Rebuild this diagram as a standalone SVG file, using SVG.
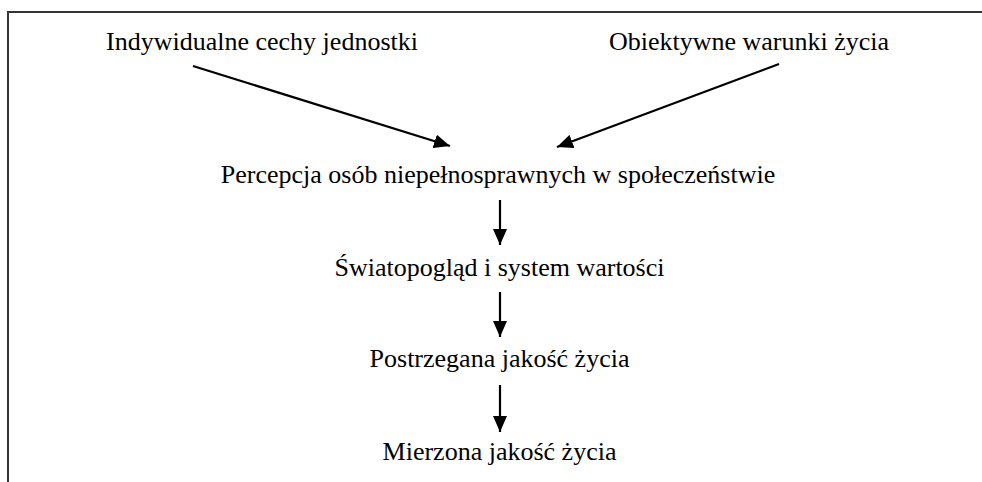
<svg xmlns="http://www.w3.org/2000/svg" width="982" height="482" viewBox="0 0 982 482">
<style>
.t{font-family:"Liberation Serif","Times New Roman",serif;font-size:26px;fill:#000;text-anchor:middle}
.c{stroke:#000;stroke-width:2.2;fill:none}
.frame{stroke:#333;stroke-width:2;fill:none}
</style>
<defs>
<marker id="ah" viewBox="0 0 16 14" refX="16" refY="7" markerWidth="16" markerHeight="14" markerUnits="userSpaceOnUse" orient="auto">
<path d="M0,0 L16,7 L0,14 Z" fill="#000"/>
</marker>
</defs>
<rect width="982" height="482" fill="#fff"/>
<path class="frame" d="M8,482 V12 H982"/>
<g id="n1"><text class="t" x="262" y="50">Indywidualne cechy jednostki</text></g>
<g id="n2"><text class="t" x="749" y="50">Obiektywne warunki życia</text></g>
<g id="n3"><text class="t" x="498" y="183">Percepcja osób niepełnosprawnych w społeczeństwie</text></g>
<g id="n4"><text class="t" x="499.5" y="276">Światopogląd i system wartości</text></g>
<g id="n5"><text class="t" x="499.5" y="367">Postrzegana jakość życia</text></g>
<g id="n6"><text class="t" x="499.5" y="460">Mierzona jakość życia</text></g>
<g id="connectors">
<line class="c" x1="193" y1="66" x2="450" y2="146" marker-end="url(#ah)"/>
<line class="c" x1="779" y1="64" x2="557" y2="147" marker-end="url(#ah)"/>
<line class="c" x1="500" y1="200" x2="500" y2="245" marker-end="url(#ah)"/>
<line class="c" x1="500" y1="292" x2="500" y2="337" marker-end="url(#ah)"/>
<line class="c" x1="500" y1="385" x2="500" y2="432" marker-end="url(#ah)"/>
</g>
</svg>
